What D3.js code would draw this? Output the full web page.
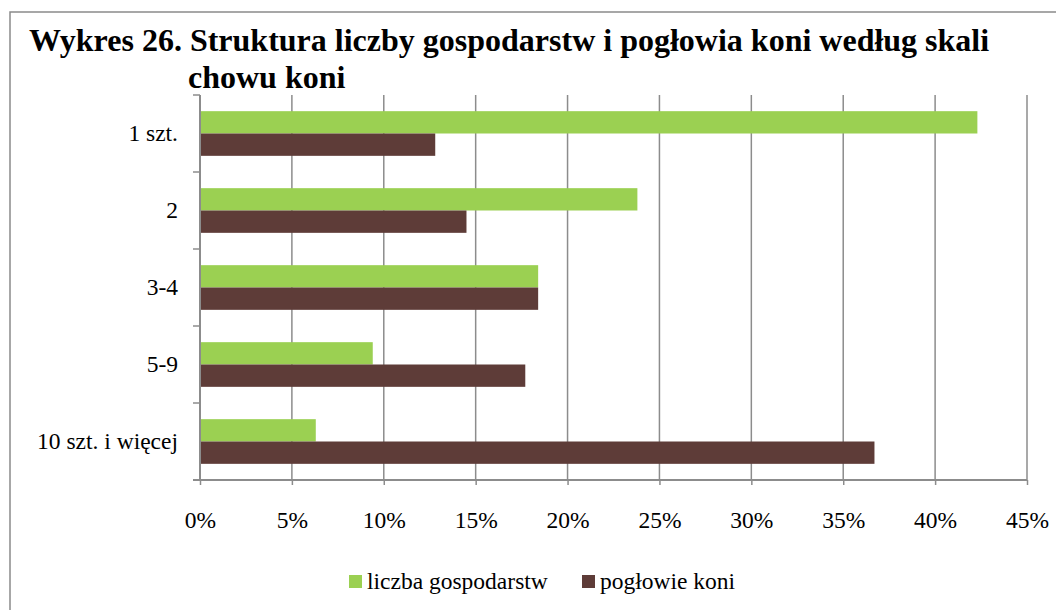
<!DOCTYPE html>
<html>
<head>
<meta charset="utf-8">
<script src="https://cdn.jsdelivr.net/npm/d3@7"></script>
<style>
  body { margin: 0; background: #fff; }
  svg text { font-family: "Liberation Serif", "Times New Roman", serif; }
</style>
</head>
<body>
<svg id="chart" width="1056" height="610"></svg>
<script>
var categories = ['1 szt.', '2', '3-4', '5-9', '10 szt. i więcej'];
var seriesNames = ['liczba gospodarstw', 'pogłowie koni'];
var gospodarstwa = [42.3, 23.8, 18.4, 9.4, 6.3];
var poglowie = [12.8, 14.5, 18.4, 17.7, 36.7];
var xTicks = [0, 5, 10, 15, 20, 25, 30, 35, 40, 45];
var colors = ['#9bd052', '#5e3c38'];

var svg = d3.select('#chart');

// frame round the whole chart
svg.append('rect')
    .attr('x', 10).attr('y', 12)
    .attr('width', 1100).attr('height', 700)
    .attr('fill', 'none')
    .attr('stroke', '#8a8a8a')
    .attr('stroke-width', 1.5);

// title
var title = svg.append('text')
    .style('font-weight', 'bold')
    .style('font-size', '32px')
    .attr('fill', '#000');
title.append('tspan').attr('x', 29).attr('y', 51)
    .text('Wykres 26. Struktura liczby gospodarstw i pogłowia koni według skali');
title.append('tspan').attr('x', 188).attr('y', 88)
    .text('chowu koni');

var plotLeft = 200, plotRight = 1027, plotTop = 95, plotBottom = 480;

var x = d3.scaleLinear()
    .domain([0, 45])
    .range([plotLeft, plotRight]);

var y = d3.scaleBand()
    .domain(categories)
    .range([plotTop, plotBottom])
    .paddingInner(0.42)
    .paddingOuter(0.21);

var ySub = d3.scaleBand()
    .domain(seriesNames)
    .range([0, y.bandwidth()]);

// vertical grid lines
svg.append('g')
    .selectAll('line')
    .data(xTicks.slice(1))
    .enter()
    .append('line')
        .attr('x1', function(d){ return x(d); })
        .attr('x2', function(d){ return x(d); })
        .attr('y1', plotTop)
        .attr('y2', plotBottom)
        .attr('stroke', '#8c8c8c')
        .attr('stroke-width', 1.5);

// bars
var rows = categories.map(function(c, i){
    return {cat: c, values: [gospodarstwa[i], poglowie[i]]};
});

var groups = svg.append('g')
    .selectAll('g')
    .data(rows)
    .enter()
    .append('g')
        .attr('transform', function(d){ return 'translate(0,' + y(d.cat) + ')'; });

groups.selectAll('rect')
    .data(function(d){ return d.values; })
    .enter()
    .append('rect')
        .attr('x', x(0))
        .attr('y', function(d, i){ return ySub(seriesNames[i]); })
        .attr('width', function(d){ return x(d) - x(0); })
        .attr('height', ySub.bandwidth())
        .attr('fill', function(d, i){ return colors[i]; });

// x axis
var xAxis = svg.append('g')
    .attr('transform', 'translate(0,' + plotBottom + ')')
    .attr('font-family', null)
    .call(d3.axisBottom(x)
        .tickValues(xTicks)
        .tickFormat(function(d){ return d + '%'; })
        .tickSize(5)
        .tickSizeOuter(0)
        .tickPadding(26));
xAxis.attr('font-family', '"Liberation Serif", serif').attr('font-size', 23.5);
xAxis.select('.domain').remove();
xAxis.append('line')
    .attr('x1', plotLeft - 7).attr('x2', plotRight)
    .attr('stroke', '#8c8c8c').attr('stroke-width', 2);
xAxis.selectAll('.tick line').attr('stroke', '#8c8c8c').attr('stroke-width', 1.5);
xAxis.selectAll('text').attr('fill', '#000');

// y axis
var yAxis = svg.append('g')
    .attr('transform', 'translate(' + plotLeft + ',0)')
    .call(d3.axisLeft(y).tickSize(0).tickPadding(22));
yAxis.attr('font-family', '"Liberation Serif", serif').attr('font-size', 23.5);
yAxis.select('.domain').remove();
yAxis.append('line')
    .attr('y1', plotTop).attr('y2', plotBottom)
    .attr('stroke', '#8c8c8c').attr('stroke-width', 2);
yAxis.selectAll('.sep')
    .data(d3.range(categories.length + 1))
    .enter()
    .append('line')
        .attr('x1', -7).attr('x2', 0)
        .attr('y1', function(i){ return plotTop + i * y.step(); })
        .attr('y2', function(i){ return plotTop + i * y.step(); })
        .attr('stroke', '#8c8c8c').attr('stroke-width', 1.5);
yAxis.selectAll('text').attr('fill', '#000');

// legend
var legendX = [349, 582];
var legend = svg.append('g')
    .selectAll('g')
    .data(seriesNames)
    .enter()
    .append('g')
        .attr('transform', function(d, i){ return 'translate(' + legendX[i] + ',575)'; });
legend.append('rect')
    .attr('width', 13).attr('height', 13)
    .attr('fill', function(d, i){ return colors[i]; });
legend.append('text')
    .attr('x', 18).attr('y', 14)
    .style('font-size', '23.5px')
    .text(function(d){ return d; });
</script>
</body>
</html>
